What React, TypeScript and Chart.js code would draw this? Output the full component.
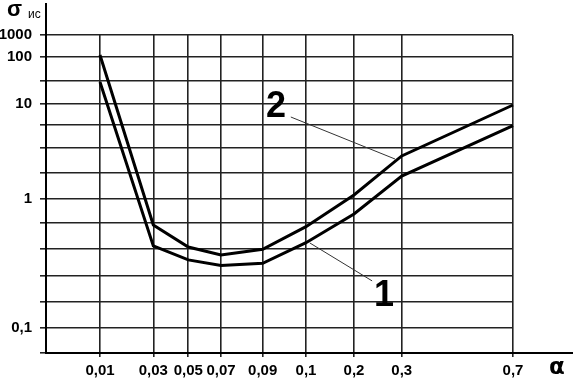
import { useEffect, useRef } from 'react';
import { Chart, Scale, registerables } from 'chart.js';

// ---- data ----
const alphaValues = [0.01, 0.03, 0.05, 0.07, 0.09, 0.1, 0.2, 0.3, 0.7];
const alphaLabels = ['0,01', '0,03', '0,05', '0,07', '0,09', '0,1', '0,2', '0,3', '0,7'];
const curve1 = [30, 0.42, 0.33, 0.299, 0.311, 0.445, 0.75, 1.67, 5.52];
const curve2 = [120, 0.609, 0.412, 0.359, 0.396, 0.591, 1.094, 2.64, 9.73];
const sigmaLabelValues = [0.1, 1, 10, 100, 1000];
const sigmaLabels = ['0,1', '1', '10', '100', '1000'];
const sigmaGridValues = [0.0631, 0.1, 0.158, 0.251, 0.398, 0.631, 1, 1.778, 3.162, 5.623, 10, 31.62, 100, 1000];

// curve tags ("1", "2") and their leader lines, in data units
const tagNames = ['1', '2'];
const tagAlpha = [0.263, 0.0931];
const tagSigma = [0.176, 9.2];
const leaderFromAlpha = [0.108, 0.0965];
const leaderFromSigma = [0.443, 7.0];
const leaderToAlpha = [0.238, 0.286];
const leaderToSigma = [0.229, 2.46];

// ---- axis geometry of the (non-uniform) printed scales: value -> fraction of axis ----
const alphaKnots: [number, number][] = [
  [0, 0], [0.01, 0.1156], [0.03, 0.2298], [0.05, 0.3047], [0.07, 0.3747],
  [0.09, 0.464], [0.1, 0.5567], [0.2, 0.6595], [0.3, 0.7617], [0.7, 1],
];
const sigmaKnots: [number, number][] = [
  [0.0631, 0], [0.1, 0.0786], [0.158, 0.1604], [0.251, 0.2431], [0.398, 0.327],
  [0.631, 0.4088], [1, 0.4843], [1.778, 0.5651], [3.162, 0.6447], [5.623, 0.717],
  [10, 0.783], [31.62, 0.8553], [100, 0.9318], [1000, 1],
];

function makeKnotScale(id: string, knots: [number, number][], tickValues: number[], useLog: boolean) {
  const t = (v: number) => (useLog ? Math.log10(v) : v);
  const tk = knots.map((k) => [t(k[0]), k[1]]);
  const toDec = (v: number) => {
    const tv = t(v);
    let i = 0;
    while (i < tk.length - 2 && tv > tk[i + 1][0]) i++;
    const [a0, f0] = tk[i];
    const [a1, f1] = tk[i + 1];
    return f0 + ((tv - a0) / (a1 - a0)) * (f1 - f0);
  };
  const fromDec = (d: number) => {
    let i = 0;
    while (i < tk.length - 2 && d > tk[i + 1][1]) i++;
    const [a0, f0] = tk[i];
    const [a1, f1] = tk[i + 1];
    const tv = a0 + ((d - f0) / (f1 - f0)) * (a1 - a0);
    return useLog ? Math.pow(10, tv) : tv;
  };
  class KnotScale extends Scale {
    static id = id;
    static defaults = {};
    determineDataLimits() {
      (this as any).min = knots[0][0];
      (this as any).max = knots[knots.length - 1][0];
    }
    buildTicks() {
      return tickValues.map((v) => ({ value: v }));
    }
    getLabelForValue(v: number) {
      return String(v);
    }
    getPixelForValue(v: number) {
      return (this as any).getPixelForDecimal(toDec(v));
    }
    getPixelForTick(i: number) {
      return this.getPixelForValue((this as any).ticks[i].value);
    }
    getValueForPixel(p: number) {
      return fromDec((this as any).getDecimalForPixel(p));
    }
  }
  return KnotScale;
}

const AlphaScale = makeKnotScale('alphaKnot', alphaKnots, alphaValues, false);
const SigmaScale = makeKnotScale('sigmaKnot', sigmaKnots, sigmaGridValues, true);

Chart.register(...registerables, AlphaScale as any, SigmaScale as any);

const FONT = '"Liberation Sans", Arial, sans-serif';

const decorPlugin = {
  id: 'decor',
  afterDraw(chart: any) {
    const { ctx, chartArea: a, scales } = chart;
    const xs = scales.x;
    const ys = scales.y;
    ctx.save();
    ctx.strokeStyle = '#000';
    ctx.lineWidth = 2;
    ctx.beginPath();
    ctx.moveTo(a.left, a.top);
    ctx.lineTo(a.left, 3);
    ctx.moveTo(a.right, a.bottom);
    ctx.lineTo(573, a.bottom);
    ctx.stroke();

    ctx.fillStyle = '#000';
    ctx.textBaseline = 'alphabetic';
    ctx.textAlign = 'left';
    ctx.font = `bold 22px ${FONT}`;
    ctx.fillText('σ', 7, 16);
    ctx.font = `12px ${FONT}`;
    ctx.fillText('ис', 28, 18);
    ctx.font = `bold 23px "DejaVu Sans", ${FONT}`;
    ctx.fillText('α', 549, 374);

    ctx.strokeStyle = '#333';
    ctx.lineWidth = 1;
    ctx.beginPath();
    for (let i = 0; i < tagNames.length; i++) {
      ctx.moveTo(xs.getPixelForValue(leaderFromAlpha[i]), ys.getPixelForValue(leaderFromSigma[i]));
      ctx.lineTo(xs.getPixelForValue(leaderToAlpha[i]), ys.getPixelForValue(leaderToSigma[i]));
    }
    ctx.stroke();

    ctx.font = `bold 36px ${FONT}`;
    ctx.textAlign = 'center';
    ctx.textBaseline = 'middle';
    for (let i = 0; i < tagNames.length; i++) {
      ctx.fillText(tagNames[i], xs.getPixelForValue(tagAlpha[i]), ys.getPixelForValue(tagSigma[i]));
    }
    ctx.restore();
  },
};

export default function App() {
  const ref = useRef<HTMLCanvasElement | null>(null);
  useEffect(() => {
    if (!ref.current) return;
    const toPts = (vals: number[]) => vals.map((v, i) => ({ x: alphaValues[i], y: v }));
    const chart = new Chart(ref.current, {
      type: 'line',
      data: {
        datasets: [
          { label: '1', data: toPts(curve1), borderColor: '#000', borderWidth: 3, pointRadius: 0, tension: 0, fill: false },
          { label: '2', data: toPts(curve2), borderColor: '#000', borderWidth: 3, pointRadius: 0, tension: 0, fill: false },
        ],
      },
      options: {
        animation: false,
        responsive: false,
        devicePixelRatio: 1,
        layout: { padding: { top: 35, right: 68, left: 0, bottom: 0 } },
        plugins: { legend: { display: false }, tooltip: { enabled: false }, title: { display: false } },
        scales: {
          x: {
            type: 'alphaKnot' as any,
            position: 'bottom',
            afterFit: (s: any) => { s.height = 26; },
            grid: { color: '#222', lineWidth: 1.6, tickLength: 4, drawTicks: true },
            border: { display: true, color: '#000', width: 2 },
            ticks: {
              autoSkip: false,
              maxRotation: 0,
              padding: 5,
              color: '#000',
              font: { family: FONT, size: 15, weight: 'bold' },
              callback: (v: any) => {
                const i = alphaValues.indexOf(Number(v));
                return i >= 0 ? alphaLabels[i] : '';
              },
            },
          } as any,
          y: {
            type: 'sigmaKnot' as any,
            position: 'left',
            afterFit: (s: any) => { s.width = 46; },
            grid: { color: '#222', lineWidth: 1.6, tickLength: 6, drawTicks: true },
            border: { display: true, color: '#000', width: 2 },
            ticks: {
              autoSkip: false,
              padding: 8,
              color: '#000',
              font: { family: FONT, size: 15, weight: 'bold' },
              callback: (v: any) => {
                const i = sigmaLabelValues.findIndex((s) => Math.abs(s - Number(v)) / s < 1e-6);
                return i >= 0 ? sigmaLabels[i] : '';
              },
            },
          } as any,
        },
      },
      plugins: [decorPlugin],
    });
    return () => chart.destroy();
  }, []);
  return (
    <div style={{ position: 'fixed', left: 0, top: 0, width: 581, height: 379, background: '#fff' }}>
      <canvas ref={ref} width={581} height={379} style={{ display: 'block', width: 581, height: 379 }} />
    </div>
  );
}
